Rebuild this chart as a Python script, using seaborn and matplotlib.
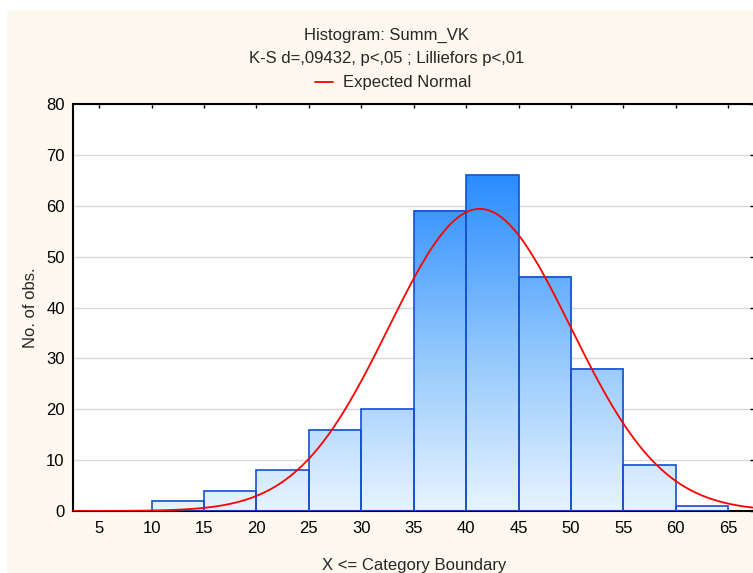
import numpy as np
import matplotlib
matplotlib.use("Agg")
import matplotlib.pyplot as plt
from matplotlib.patches import Rectangle
from matplotlib.colors import LinearSegmentedColormap
import seaborn as sns

#******************
#   Data
#******************
bin_edges = [5, 10, 15, 20, 25, 30, 35, 40, 45, 50, 55, 60, 65]
counts = [0, 2, 4, 8, 16, 20, 59, 66, 46, 28, 9, 1]
norm_mean = 41.3
norm_sd = 8.7
x_ticks = [5, 10, 15, 20, 25, 30, 35, 40, 45, 50, 55, 60, 65]
y_ticks = [0, 10, 20, 30, 40, 50, 60, 70, 80]

mids = [(a + b) / 2 for a, b in zip(bin_edges[:-1], bin_edges[1:])]
bin_width = bin_edges[1] - bin_edges[0]
n_obs = sum(counts)

#*******************
#   Aesthetics
#*******************
sns.set_style("white")
plt.rcParams["font.family"] = ["Liberation Sans", "DejaVu Sans"]
fs = 12
cream = "#FEF9EE"
grad = LinearSegmentedColormap.from_list("bargrad", ["#E8F4FF", "#8CC4FC", "#2A8CFF"])

fig = plt.figure(figsize=(7.53, 5.73), dpi=100)
fig.patch.set_facecolor("white")
fig.add_artist(Rectangle((7 / 753, 0), 1, 1 - 10 / 573, transform=fig.transFigure,
                         facecolor=cream, edgecolor="none", zorder=0))

ax = fig.add_axes([73 / 753, 1 - 511 / 573, 681.4 / 753, 407 / 573])
ax.set_facecolor("white")

#*******************
#   Histogram
#*******************
sns.histplot(x=mids, weights=counts, bins=bin_edges, ax=ax, fill=True,
             edgecolor="#1550D0", linewidth=1.2)

ymax = max(counts)
for p in ax.patches:
    x0, w, h = p.get_x(), p.get_width(), p.get_height()
    p.set_facecolor("none")
    p.set_zorder(3)
    if h > 0:
        ax.imshow(np.linspace(0, h, 200)[:, None], extent=(x0, x0 + w, 0, h),
                  origin="lower", cmap=grad, vmin=0, vmax=ymax,
                  aspect="auto", zorder=2)

xs = np.linspace(2.5, 67.5, 500)
ys = n_obs * bin_width * np.exp(-0.5 * ((xs - norm_mean) / norm_sd) ** 2) / (norm_sd * np.sqrt(2 * np.pi))
ax.plot(xs, ys, color="#FF0000", lw=1.3, zorder=4, label="Expected Normal")

ax.set_xlim(2.5, 67.5)
ax.set_ylim(0, 80)
ax.set_xticks(x_ticks)
ax.set_yticks(y_ticks)
ax.yaxis.grid(True, color="#D9D9D9", lw=1)
ax.set_axisbelow(True)
ax.tick_params(direction="in", length=3, width=1, top=True, right=True,
               labelsize=fs, colors="black")
ax.tick_params(axis="x", pad=7)
ax.tick_params(axis="y", pad=6)
for s in ax.spines.values():
    s.set_color("black")
    s.set_linewidth(1.5)

#******************
#   Titles and labels
#******************
fig.text(387 / 753, 1 - 35 / 573, "Histogram: Summ_VK", ha="center", va="center", fontsize=fs)
fig.text(387 / 753, 1 - 58 / 573, "K-S d=,09432, p<,05 ; Lilliefors p<,01", ha="center", va="center", fontsize=fs)
ax.legend(loc="center", bbox_to_anchor=(393 / 753, 1 - 83 / 573), bbox_transform=fig.transFigure,
          frameon=False, fontsize=fs, handlelength=1.1, handletextpad=0.6)
ax.set_xlabel("X <= Category Boundary", fontsize=fs, labelpad=16)
ax.set_ylabel("No. of obs.", fontsize=fs, labelpad=6)

fig.savefig("out.png", dpi=100, facecolor=fig.get_facecolor())
